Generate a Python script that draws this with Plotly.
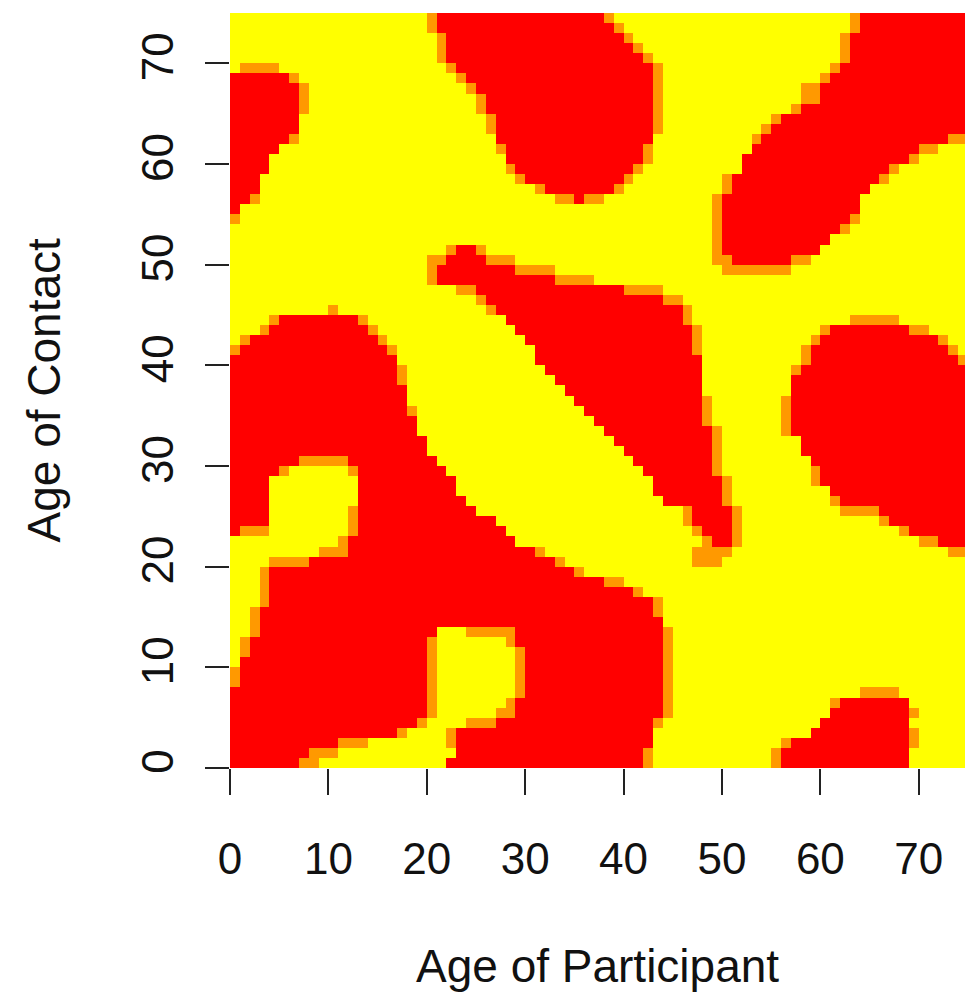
import plotly.graph_objects as go

# Grid: 75 x 75 cells (ages 0..74), cell [c, c+1] x [r, r+1]
N_AGES = 75
TICKS = [0, 10, 20, 30, 40, 50, 60, 70]
X_TITLE = "Age of Participant"
Y_TITLE = "Age of Contact"

# Red cells per row (row = age of contact), as column spans
RED = {
    74: "21-37,64-74", 73: "21-38,64-74", 72: "22-39,63-74", 71: "22-40,63-74",
    70: "22-41,63-74", 69: "23-42,62-74", 68: "0-5,24-42,61-74", 67: "0-6,25-42,60-74",
    66: "0-6,26-42,60-74", 65: "0-6,26-42,58-74", 64: "0-6,27-42,56-74", 63: "0-6,27-42,55-74",
    62: "0-5,27-42,54-72", 61: "0-4,28-41,53-69", 60: "0-3,28-41,52-68", 59: "0-3,29-40,52-66",
    58: "0-2,30-39,51-65", 57: "0-2,32-38,51-64", 56: "0-1,35,50-63", 55: "0,50-63",
    54: "50-62", 53: "50-61", 52: "50-60", 51: "23-24,50-59",
    50: "22-25,51-56", 49: "21-28", 48: "21-32", 47: "25-39",
    46: "26-43", 45: "27-45", 44: "5-12,28-45", 43: "4-13,29-46,61-68",
    42: "2-14,30-46,60-71", 41: "1-15,31-46,59-72", 40: "0-16,31-47,59-73", 39: "0-16,32-47,58-74",
    38: "0-16,33-47,57-74", 37: "0-17,34-47,57-74", 36: "0-17,35-47,57-74", 35: "0-17,36-47,57-74",
    34: "0-18,37-47,57-74", 33: "0-18,38-48,57-74", 32: "0-19,39-48,58-74", 31: "0-19,40-48,58-74",
    30: "0-20,41-48,59-74", 29: "0-4,13-21,42-48,60-74", 28: "0-3,13-22,43-49,60-74",
    27: "0-3,13-22,43-49,61-74", 26: "0-3,13-23,44-49,62-74", 25: "0-3,13-24,47-50,66-74",
    24: "0-3,13-26,47-50,67-74", 23: "0,13-27,48-50,69-74", 22: "12-28,49-50,72-74",
    21: "12-30", 20: "8-32", 19: "4-34", 18: "4-37", 17: "4-40", 16: "4-42", 15: "3-42",
    14: "3-43", 13: "3-20,29-43", 12: "2-19,29-43", 11: "2-19,30-43", 10: "1-19,30-43",
    9: "1-19,30-43", 8: "1-19,30-43", 7: "0-19,30-43", 6: "0-19,29-43,62-68",
    5: "0-19,29-43,61-68", 4: "0-18,27-42,60-68", 3: "0-16,23-42,59-68",
    2: "0-10,23-42,57-68", 1: "0-7,23-41,56-68", 0: "0-6,22-41,56-68",
}

# Orange (intermediate) cells per row
ORANGE = {
    74: "20,38,63", 73: "20,39,63", 72: "21,40,62", 71: "21,41,62", 70: "21,42,62",
    69: "1-4,22,43,61", 68: "6,23,43,60", 67: "7,24,43,58-59", 66: "7,25,43,58-59",
    65: "7,25,43,57", 64: "26,43,55", 63: "26,43,54", 62: "6,53,73-74", 61: "27,42,70-71",
    60: "42,69", 59: "28,41,67", 58: "29,40,50,66", 57: "31,39,50", 56: "2,33-34,36-37,49",
    55: "49", 54: "0,49,63", 53: "49,62", 52: "49", 51: "22,25,49",
    50: "20-21,26-28,49-50,57-58", 49: "20,29-32,50-56", 48: "20,33-36", 47: "23-24,40-43",
    46: "25,44-45", 45: "10,26,46", 44: "4,13,46,63-67", 43: "3,14,47,60,69-70",
    42: "1,15,47,59,72", 41: "0,16,47,58,73", 40: "58,74", 39: "17,57", 38: "17", 37: "",
    36: "48,56", 35: "18,48,56", 34: "48,56", 33: "49,56", 32: "49", 31: "49",
    30: "7-11,49", 29: "5,12,49,59", 28: "50,59", 27: "50", 26: "50,61",
    25: "12,46,51,62-65", 24: "12,46,51,66", 23: "1-3,12,47,51,68", 22: "11,48,51,70-71",
    21: "9-11,31,47-50,73-74", 20: "4-7,33,47-49", 19: "3,35", 18: "3,38-39", 17: "3,41",
    16: "3,43", 15: "2,43", 14: "2", 13: "2,24-28,44", 12: "1,20,28,44", 11: "1,20,29,44",
    10: "20,29,44", 9: "0,20,29,44", 8: "0,20,29,44", 7: "20,29,44,64-67",
    6: "20,28,44,61", 5: "20,27-28,44,69", 4: "19,24-26,43", 3: "17,22,69",
    2: "11-13,22,56,69", 1: "8-10,42,55", 0: "7-8,42,55",
}

COLORS = ["#FFFF00", "#FF9900", "#FF0000"]  # low, mid, high


def cells(spec):
    out = []
    for part in spec.split(","):
        part = part.strip()
        if not part:
            continue
        if "-" in part:
            a, b = map(int, part.split("-"))
            out.extend(range(a, b + 1))
        else:
            out.append(int(part))
    return out


z = [[0] * N_AGES for _ in range(N_AGES)]
for r, spec in RED.items():
    for c in cells(spec):
        z[r][c] = 2
for r, spec in ORANGE.items():
    for c in cells(spec):
        z[r][c] = 1

centers = [i + 0.5 for i in range(N_AGES)]

fig = go.Figure(
    go.Heatmap(
        z=z, x=centers, y=centers, zmin=0, zmax=2, showscale=False,
        colorscale=[[0, COLORS[0]], [0.333, COLORS[0]], [0.333, COLORS[1]],
                    [0.667, COLORS[1]], [0.667, COLORS[2]], [1, COLORS[2]]],
        hovertemplate="Participant %{x}<br>Contact %{y}<extra></extra>",
    )
)

FONT = "Liberation Sans, Arial, sans-serif"
fig.update_layout(
    width=965, height=994,
    margin=dict(l=230, r=0, t=13, b=226),
    paper_bgcolor="white", plot_bgcolor="white",
    font=dict(family=FONT, color="#111111"),
    xaxis=dict(range=[0, 74.7], tickvals=TICKS, ticktext=[str(t) for t in TICKS],
               ticks="outside", ticklen=26, tickwidth=2, tickcolor="#222222",
               showgrid=False, zeroline=False, showline=False,
               tickfont=dict(size=44, family=FONT), ticklabelstandoff=26),
    yaxis=dict(range=[0, 75], tickvals=TICKS, ticktext=[str(t) for t in TICKS],
               ticks="outside", ticklen=24, tickwidth=2, tickcolor="#222222",
               showgrid=False, zeroline=False, showline=False, tickangle=-90,
               tickfont=dict(size=44, family=FONT), ticklabelstandoff=14),
    annotations=[
        dict(text=X_TITLE, xref="paper", yref="paper", x=0.5, y=0,
             xanchor="center", yanchor="middle", yshift=-198, showarrow=False,
             font=dict(size=46, family=FONT)),
        dict(text=Y_TITLE, xref="paper", yref="paper", x=0, y=0.5,
             xanchor="center", yanchor="middle", xshift=-187, textangle=-90,
             showarrow=False, font=dict(size=46, family=FONT)),
    ],
)

fig.write_html(
    "out.html",
    config={"displayModeBar": False},
    post_script="document.body.style.margin='0';document.body.style.overflow='hidden';",
)
